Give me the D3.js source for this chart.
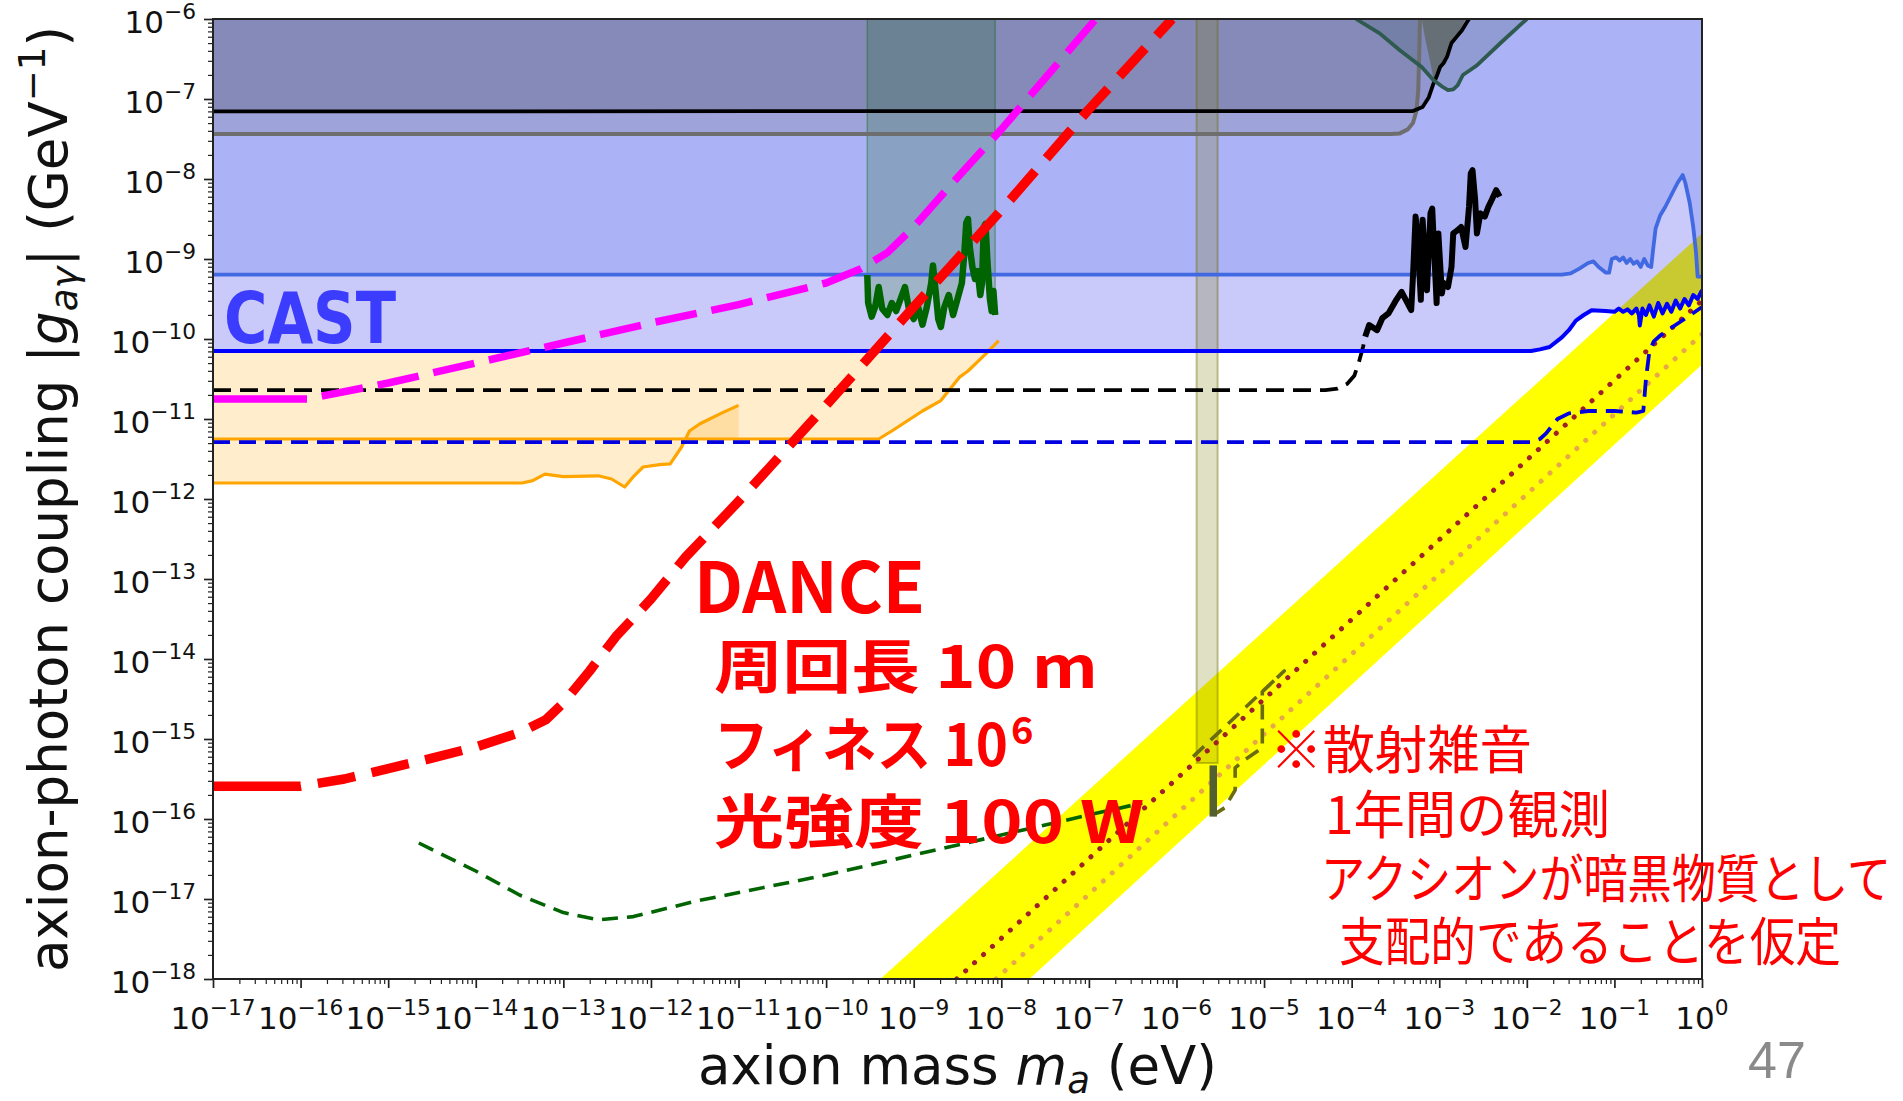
<!DOCTYPE html>
<html>
<head>
<meta charset="utf-8">
<script src="https://cdn.jsdelivr.net/npm/d3@7"></script>
<style>
  html, body { margin: 0; padding: 0; background: #ffffff; }
  svg { display: block; }
</style>
</head>
<body>
<svg id="chart" width="1903" height="1101"></svg>
<script>
// All curves are pairs [log10(m_a / eV), log10(|g_aγ| / GeV^-1)].

const xTickExps = d3.range(-17, 1);          // 10^-17 ... 10^0
const yTickExps = d3.range(-18, -5);         // 10^-18 ... 10^-6

// CAST helioscope limit
const castLimit = [[-17,-10.15],[-1.95,-10.15],[-1.85,-10.13],[-1.74,-10.1],[-1.6,-9.98],[-1.52,-9.89],
  [-1.44,-9.77],[-1.35,-9.7],[-1.26,-9.64],[-1.1,-9.65],[-1.0,-9.66],[-0.95,-9.62],[-0.9,-9.66],
  [-0.85,-9.63],[-0.8,-9.68],[-0.75,-9.62],[-0.72,-9.7],[-0.71,-9.83],[-0.68,-9.62],[-0.64,-9.7],
  [-0.6,-9.58],[-0.55,-9.72],[-0.5,-9.55],[-0.45,-9.68],[-0.4,-9.56],[-0.35,-9.66],[-0.3,-9.52],
  [-0.25,-9.62],[-0.2,-9.5],[-0.15,-9.58],[-0.1,-9.45],[-0.05,-9.5],[0,-9.39]];

// Earlier helioscope limit
const helioLimit = [[-17,-9.196],[-1.6,-9.196],[-1.5,-9.18],[-1.4,-9.12],[-1.3,-9.05],[-1.24,-9.03],
  [-1.18,-9.1],[-1.1,-9.17],[-1.06,-9.17],[-1.03,-9.0],[-0.98,-8.98],[-0.94,-9.02],[-0.9,-8.98],
  [-0.86,-9.05],[-0.82,-9.0],[-0.78,-9.06],[-0.74,-9.03],[-0.7,-9.1],[-0.66,-9.0],[-0.62,-9.08],
  [-0.58,-9.1],[-0.56,-8.9],[-0.53,-8.62],[-0.48,-8.46],[-0.42,-8.35],[-0.35,-8.2],[-0.28,-8.05],
  [-0.22,-7.95],[-0.19,-8.05],[-0.14,-8.3],[-0.1,-8.6],[-0.07,-8.9],[-0.05,-9.22],[0,-9.22]];

// Light-shining-through-wall type limits
const grayLimit = [[-17,-7.4375],[-3.55,-7.4375],[-3.45,-7.43],[-3.36,-7.38],[-3.3,-7.3],
  [-3.26,-7.15],[-3.24,-6.9],[-3.23,-6.5],[-3.22,-6.0]];
const blackLimit = [[-17,-7.155],[-3.3,-7.15],[-3.19,-7.1],[-3.12,-6.98],[-3.07,-6.82],[-3.03,-6.72],
  [-2.99,-6.6],[-2.95,-6.55],[-2.91,-6.47],[-2.86,-6.3],[-2.8,-6.22],[-2.74,-6.14],[-2.69,-6.05],[-2.66,-6.0]];
const grayPatch = [[-3.2,-6.0],[-2.7,-6.0],[-2.8,-6.22],[-2.86,-6.3],[-2.91,-6.47],[-2.99,-6.6],
  [-3.04,-6.75],[-3.07,-6.72],[-3.11,-6.5],[-3.16,-6.25]];
const slateLimit = [[-3.95,-6.0],[-3.68,-6.18],[-3.45,-6.39],[-3.2,-6.6],[-3.07,-6.76],[-2.96,-6.85],
  [-2.9,-6.89],[-2.84,-6.88],[-2.79,-6.83],[-2.73,-6.7],[-2.65,-6.64],[-2.57,-6.58],[-2.3,-6.3],[-2.0,-6.0]];

// Haloscope band near 1e-9 eV
const greenLimit = [[-9.53,-9.2],[-9.52,-9.55],[-9.48,-9.72],[-9.44,-9.6],[-9.4,-9.35],[-9.36,-9.62],
  [-9.3,-9.7],[-9.25,-9.55],[-9.2,-9.65],[-9.15,-9.5],[-9.1,-9.35],[-9.05,-9.65],[-9.0,-9.75],
  [-8.95,-9.6],[-8.9,-9.82],[-8.85,-9.6],[-8.8,-9.3],[-8.78,-9.08],[-8.75,-9.4],[-8.72,-9.75],
  [-8.69,-9.85],[-8.65,-9.6],[-8.6,-9.45],[-8.55,-9.7],[-8.5,-9.5],[-8.45,-9.3],[-8.42,-8.9],
  [-8.4,-8.55],[-8.38,-8.5],[-8.36,-8.85],[-8.33,-9.1],[-8.3,-9.25],[-8.27,-9.15],[-8.24,-9.45],
  [-8.22,-9.3],[-8.2,-8.6],[-8.18,-8.56],[-8.16,-9.0],[-8.13,-9.5],[-8.11,-9.65],[-8.09,-9.4],[-8.07,-9.7]];

// Microwave haloscope strip and its projection
const oliveStrip = [[-5.77,-15.3],[-5.53,-15.3]];
const oliveSolid = [[-5.58,-15.33],[-5.58,-15.97]];
const oliveProjection = [[-5.81,-15.22],[-4.77,-14.15],[-5.02,-14.41],[-5.02,-15.11],[-5.22,-15.26],
  [-5.33,-15.36],[-5.33,-15.64],[-5.45,-15.86],[-5.58,-15.95]];

// Astrophysical limits
const orangeUpper = [[-17,-11.25],[-9.4,-11.25],[-9.25,-11.15],[-8.9,-10.9],[-8.69,-10.77],
  [-8.48,-10.48],[-8.38,-10.4],[-8.18,-10.19],[-8.03,-10.02]];
const orangeLower = [[-17,-11.8],[-13.47,-11.8],[-13.35,-11.77],[-13.21,-11.69],[-13.0,-11.72],
  [-12.6,-11.71],[-12.45,-11.75],[-12.3,-11.85],[-12.2,-11.72],[-12.09,-11.6],[-11.9,-11.57],
  [-11.78,-11.56],[-11.65,-11.35],[-11.56,-11.15],[-11.44,-11.06],[-11.2,-10.93],[-11.0,-10.83]];

// Projections
const blackDashed = [[-17,-10.64],[-4.3,-10.64],[-4.16,-10.62],[-4.05,-10.56],[-3.97,-10.46],
  [-3.92,-10.3],[-3.87,-10.1],[-3.845,-9.97]];
const blackNoisy = [[-3.845,-9.97],[-3.8,-9.825],[-3.71,-9.89],[-3.65,-9.74],[-3.58,-9.68],[-3.49,-9.51],
  [-3.43,-9.41],[-3.32,-9.64],[-3.3,-9.22],[-3.27,-8.47],[-3.25,-8.68],[-3.21,-9.51],[-3.19,-8.51],
  [-3.14,-9.39],[-3.1,-8.43],[-3.08,-8.37],[-3.03,-9.55],[-3.01,-8.68],[-2.97,-9.43],[-2.95,-9.3],
  [-2.9,-9.35],[-2.86,-9.1],[-2.84,-8.68],[-2.79,-8.64],[-2.75,-8.6],[-2.7,-8.85],[-2.66,-8.35],
  [-2.64,-7.93],[-2.62,-7.89],[-2.59,-8.26],[-2.57,-8.68],[-2.53,-8.43],[-2.48,-8.47],[-2.44,-8.35],
  [-2.4,-8.26],[-2.35,-8.14],[-2.31,-8.22]];
const blueDashed = [[-17,-11.29],[-1.95,-11.29],[-1.85,-11.25],[-1.78,-11.18],[-1.65,-11.0],
  [-1.52,-10.93],[-1.3,-10.9],[-1.0,-10.9],[-0.75,-10.92],[-0.67,-10.9],[-0.64,-10.5],[-0.6,-10.15],
  [-0.55,-10.03],[-0.47,-9.95],[-0.35,-9.86],[-0.2,-9.75],[0,-9.6]];
const greenDashed = [[-14.65,-16.3],[-14.0,-16.65],[-13.5,-16.95],[-13.0,-17.17],[-12.6,-17.26],
  [-12.2,-17.22],[-11.5,-17.03],[-10.0,-16.7],[-9.0,-16.45],[-8.0,-16.2],[-7.0,-15.95],[-6.39,-15.8]];
const magentaDashed = [[-17,-10.75],[-15.92,-10.75],[-15.0,-10.55],[-14.0,-10.3],[-13.0,-10.05],
  [-12.0,-9.8],[-11.0,-9.57],[-10.0,-9.3],[-9.6,-9.12],[-9.3,-8.92],[-9.0,-8.6],[-8.5,-7.98],
  [-8.0,-7.38],[-7.5,-6.74],[-6.92,-6.0]];
const danceSensitivity = [[-17,-15.59],[-16.0,-15.59],[-15.5,-15.5],[-15.0,-15.37],[-14.5,-15.24],
  [-14.0,-15.1],[-13.5,-14.92],[-13.2,-14.76],[-13.0,-14.55],[-12.7,-14.15],[-12.4,-13.72],
  [-12.0,-13.25],[-11.6,-12.72],[-11.0,-12.03],[-10.0,-10.83],[-9.0,-9.6],[-8.0,-8.39],
  [-7.0,-7.13],[-6.05,-6.0]];

// QCD axion band and benchmark models
const qcdBandUpper = [[-9.38,-18],[0,-8.68]];
const qcdBandLower = [[-7.68,-18],[0,-10.32]];
const ksvzLine = [[-8.51,-18],[0,-9.52]];
const dfszLine = [[-8.06,-18],[0,-9.94]];

// Text
const danceLines = ["周回長 10 m", "フィネス 10", "光強度 100 W"];
const noteLines = ["※散射雑音", "1年間の観測", "アクシオンが暗黒物質として", "支配的であることを仮定"];

// ---------------------------------------------------------------------------
const frame = {left: 213, right: 1702, top: 19, bottom: 979};
const svg = d3.select("#chart");
const P = e => Math.pow(10, e);
const x = d3.scaleLog().domain([P(xTickExps[0]), P(xTickExps[xTickExps.length - 1])]).range([frame.left, frame.right]);
const y = d3.scaleLog().domain([P(yTickExps[0]), P(yTickExps[yTickExps.length - 1])]).range([frame.bottom, frame.top]);
const topExp = yTickExps[yTickExps.length - 1];
const line = d3.line().x(d => x(P(d[0]))).y(d => y(P(d[1])));

svg.append("rect").attr("width", 1903).attr("height", 1101).attr("fill", "#ffffff");
svg.append("defs").append("clipPath").attr("id", "plotClip")
  .append("rect").attr("x", frame.left).attr("y", frame.top)
  .attr("width", frame.right - frame.left).attr("height", frame.bottom - frame.top);

const plot = svg.append("g").attr("clip-path", "url(#plotClip)");

function aboveToTop(pts) {
  return pts.concat([[pts[pts.length - 1][0], topExp], [pts[0][0], topExp]]);
}
function fillPoly(pts, color, opacity, stroke) {
  const p = plot.append("path").attr("d", line(pts) + "Z").attr("fill", color).attr("fill-opacity", opacity);
  if (stroke) p.attr("stroke", stroke.color).attr("stroke-opacity", stroke.opacity).attr("stroke-width", stroke.width);
  else p.attr("stroke", "none");
  return p;
}
function drawLine(pts, color, width, dash, extra) {
  const p = plot.append("path").attr("d", line(pts)).attr("fill", "none")
    .attr("stroke", color).attr("stroke-width", width)
    .attr("stroke-linejoin", "round").attr("stroke-linecap", extra && extra.cap ? extra.cap : "butt");
  if (dash) p.attr("stroke-dasharray", dash);
  return p;
}
function interp(pts, m) {
  if (m <= pts[0][0]) return pts[0][1];
  for (let i = 1; i < pts.length; i++) {
    if (m <= pts[i][0]) {
      const t = (m - pts[i - 1][0]) / (pts[i][0] - pts[i - 1][0]);
      return pts[i - 1][1] + t * (pts[i][1] - pts[i - 1][1]);
    }
  }
  return pts[pts.length - 1][1];
}

// QCD band
fillPoly(qcdBandUpper.concat(qcdBandLower.slice().reverse()), "#ffff00", 1);

// Astrophysical (orange) regions, bounded above by the CAST level
const castLevel = castLimit[0][1];
const orangeA = orangeUpper.map(d => [d[0], Math.min(d[1], castLevel)]);
fillPoly(orangeA.concat([[orangeA[orangeA.length - 1][0], castLevel], [orangeA[0][0], castLevel]]), "#ffa500", 0.2);
const orangeB = orangeLower.concat(orangeLower.slice().reverse().map(d => [d[0], interp(orangeUpper, d[0])]));
fillPoly(orangeB, "#ffa500", 0.2);

// Helioscope / laboratory regions
fillPoly(aboveToTop(castLimit), "#0000e6", 0.21);
fillPoly(aboveToTop(helioLimit), "#3c5ae6", 0.2);
fillPoly(aboveToTop(grayLimit), "#737989", 0.25);
fillPoly(aboveToTop(blackLimit), "#000000", 0.15);
fillPoly(grayPatch, "#717171", 1);
fillPoly(slateLimit, "#4f6b80", 0.3);

// Haloscope regions
fillPoly(aboveToTop(greenLimit), "#006400", 0.2, {color: "#006400", opacity: 0.35, width: 1.5});
const stripPts = [[oliveStrip[0][0], oliveStrip[0][1]], [oliveStrip[1][0], oliveStrip[1][1]],
  [oliveStrip[1][0], topExp], [oliveStrip[0][0], topExp]];
fillPoly(stripPts, "#777700", 0.23, {color: "#6b6b00", opacity: 0.4, width: 2});

// Benchmark model lines
drawLine(ksvzLine, "#a0202a", 5, "0.1,12", {cap: "round"});
drawLine(dfszLine, "#e8a848", 5, "0.1,12", {cap: "round"});

// Limit lines
drawLine(orangeUpper, "#ffa500", 3.2);
drawLine(orangeLower, "#ffa500", 3.2);
drawLine(blueDashed, "#0000e0", 3.8, "17,9");
drawLine(blackDashed, "#000000", 3.8, "18,9");
drawLine(greenDashed, "#006400", 3.6, "16,9");
drawLine(oliveProjection, "#6b6b10", 3.6, "15,9");
drawLine(oliveSolid, "#556030", 7.5);
drawLine(helioLimit, "#4169e1", 3.8);
drawLine(castLimit, "#0000ff", 4);
drawLine(grayLimit, "#6e6e6e", 4);
drawLine(blackLimit, "#000000", 3.8);
drawLine(blackNoisy, "#000000", 6);
drawLine(slateLimit, "#2f5a50", 3.8);
drawLine(greenLimit, "#006400", 6.5);

const repeatDash = (first, dash, gap) => [first, gap].concat(d3.range(80).flatMap(() => [dash, gap])).join(",");
drawLine(magentaDashed, "#ff00ff", 7.5, repeatDash(94, 42, 15));
drawLine(danceSensitivity, "#ff0000", 9.5, repeatDash(88, 38, 17));

// Axes
const axisG = svg.append("g");
const majorsX = xTickExps.map(P);
const minorsX = d3.range(xTickExps[0], xTickExps[xTickExps.length - 1]).flatMap(e => d3.range(2, 10).map(k => k * P(e)));
const majorsY = yTickExps.map(P);
const minorsY = d3.range(yTickExps[0], yTickExps[yTickExps.length - 1]).flatMap(e => d3.range(2, 10).map(k => k * P(e)));

function styleAxis(g, w) {
  g.select(".domain").remove();
  g.selectAll(".tick line").attr("stroke", "#222").attr("stroke-width", w);
  g.selectAll(".tick text").remove();
}
axisG.append("g").attr("transform", `translate(0,${frame.bottom})`)
  .call(d3.axisBottom(x).tickValues(minorsX).tickSize(5).tickFormat(() => "")).call(g => styleAxis(g, 1.2));
axisG.append("g").attr("transform", `translate(0,${frame.bottom})`)
  .call(d3.axisBottom(x).tickValues(majorsX).tickSize(9).tickFormat(() => "")).call(g => styleAxis(g, 1.7));
axisG.append("g").attr("transform", `translate(${frame.left},0)`)
  .call(d3.axisLeft(y).tickValues(minorsY).tickSize(5).tickFormat(() => "")).call(g => styleAxis(g, 1.2));
axisG.append("g").attr("transform", `translate(${frame.left},0)`)
  .call(d3.axisLeft(y).tickValues(majorsY).tickSize(9).tickFormat(() => "")).call(g => styleAxis(g, 1.7));

svg.append("rect").attr("x", frame.left).attr("y", frame.top)
  .attr("width", frame.right - frame.left).attr("height", frame.bottom - frame.top)
  .attr("fill", "none").attr("stroke", "#222").attr("stroke-width", 2);

const tickFont = 31;
function powLabel(t, e) {
  t.append("tspan").text("10");
  t.append("tspan").attr("dy", -0.44 * tickFont).attr("font-size", 0.7 * tickFont)
    .text(e < 0 ? "\u2212" + (-e) : String(e));
}
xTickExps.forEach(e => {
  const t = svg.append("text").attr("x", x(P(e))).attr("y", 1029)
    .attr("text-anchor", "middle").attr("font-family", "DejaVu Sans").attr("font-size", tickFont).attr("fill", "#111");
  powLabel(t, e);
});
yTickExps.forEach(e => {
  const t = svg.append("text").attr("x", 196).attr("y", y(P(e)) + 14)
    .attr("text-anchor", "end").attr("font-family", "DejaVu Sans").attr("font-size", tickFont).attr("fill", "#111");
  powLabel(t, e);
});

// Axis titles
const labFont = 53;
const xl = svg.append("text").attr("x", (frame.left + frame.right) / 2).attr("y", 1084)
  .attr("text-anchor", "middle").attr("font-family", "DejaVu Sans").attr("font-size", labFont).attr("fill", "#111");
xl.append("tspan").text("axion mass ");
xl.append("tspan").attr("font-style", "italic").text("m");
xl.append("tspan").attr("font-style", "italic").attr("font-size", labFont * 0.7).attr("dy", 9).text("a");
xl.append("tspan").attr("dy", -9).text(" (eV)");

const yl = svg.append("text").attr("transform", `translate(67,${(frame.top + frame.bottom) / 2}) rotate(-90)`)
  .attr("text-anchor", "middle").attr("font-family", "DejaVu Sans").attr("font-size", labFont).attr("fill", "#111");
yl.append("tspan").text("axion-photon coupling |");
yl.append("tspan").attr("font-style", "italic").text("g");
yl.append("tspan").attr("font-style", "italic").attr("font-size", labFont * 0.7).attr("dy", 10).text("aγ");
yl.append("tspan").attr("dy", -10).text("| (GeV");
yl.append("tspan").attr("font-size", labFont * 0.7).attr("dy", -22).text("\u22121");
yl.append("tspan").attr("dy", 22).text(")");

// Annotations
svg.append("text").attr("x", 224).attr("y", 343).attr("font-family", "DejaVu Sans").attr("font-weight", "bold")
  .attr("font-size", 72).attr("fill", "#3c3cff").attr("textLength", 172).attr("lengthAdjust", "spacingAndGlyphs")
  .text("CAST");

const jp = "'Noto Sans CJK JP', 'Noto Sans', sans-serif";
svg.append("text").attr("x", 694).attr("y", 613).attr("font-family", jp).attr("font-weight", "bold")
  .attr("font-size", 70).attr("fill", "#ff0000").attr("textLength", 231).attr("lengthAdjust", "spacingAndGlyphs")
  .text("DANCE");
const danceSpec = [{y: 688, len: 384}, {y: 766, len: 294}, {y: 843, len: 430}];
danceLines.forEach((s, i) => {
  svg.append("text").attr("x", 714).attr("y", danceSpec[i].y).attr("font-family", jp).attr("font-weight", "bold")
    .attr("font-size", 58).attr("fill", "#ff0000").attr("textLength", danceSpec[i].len)
    .attr("lengthAdjust", "spacingAndGlyphs").text(s);
});
svg.append("text").attr("x", 1011).attr("y", 744).attr("font-family", jp).attr("font-weight", "bold")
  .attr("font-size", 38).attr("fill", "#ff0000").text("6");

const noteSpec = [{x: 1270, y: 769, len: 262}, {x: 1325, y: 834, len: 285}, {x: 1321, y: 898, len: 570}, {x: 1339, y: 961, len: 502}];
noteLines.forEach((s, i) => {
  svg.append("text").attr("x", noteSpec[i].x).attr("y", noteSpec[i].y).attr("font-family", jp)
    .attr("font-size", 52).attr("fill", "#ff0000").attr("textLength", noteSpec[i].len)
    .attr("lengthAdjust", "spacingAndGlyphs").text(s);
});

svg.append("text").attr("x", 1748).attr("y", 1078).attr("font-family", "Liberation Sans")
  .attr("font-size", 52).attr("fill", "#8a8a8a").text("47");
</script>
</body>
</html>
